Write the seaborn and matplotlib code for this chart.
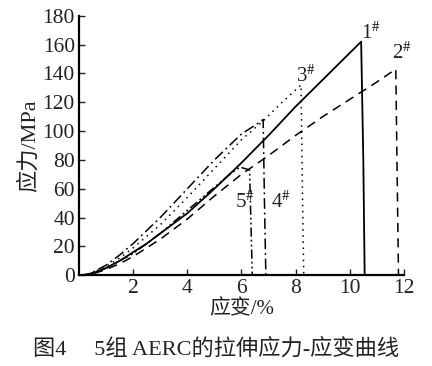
import matplotlib
matplotlib.use("Agg")
import matplotlib.pyplot as plt
import seaborn as sns
import pandas as pd

sns.set_theme(style="ticks")
plt.rcParams['font.family'] = ['Liberation Serif', 'Noto Sans CJK SC']
plt.rcParams['mathtext.fontset'] = 'stix'

# Specimen data: strain (%) and stress (MPa)
s1_strain = [0, 0.3, 0.6, 1.0, 1.5, 2.0, 2.5, 3.0, 3.5, 4.0, 5.0, 6.0, 7.0, 8.0, 9.0, 10.0, 10.42, 10.5, 10.55]
s1_stress = [0, 0.5, 2, 5, 10, 16, 22, 29, 36, 43, 60, 78, 97, 117, 135.6, 154.2, 162, 80, 0]

s2_strain = [0, 0.3, 0.6, 1.0, 1.5, 2.0, 2.5, 3.0, 3.5, 4.0, 5.0, 6.0, 7.0, 8.0, 9.0, 10.0, 11.0, 11.7, 11.75, 11.8]
s2_stress = [0, 0.3, 1.5, 4, 8, 13, 19, 25, 32, 39, 55, 70, 83, 97, 110, 122, 134, 143, 70, 0]

s3_strain = [0, 0.3, 0.6, 1.0, 1.5, 2.0, 2.5, 3.0, 4.0, 5.0, 6.0, 6.8, 7.5, 8.2, 8.25, 8.3]
s3_stress = [0, 0.5, 2.5, 6, 12, 19, 27, 35, 54, 74, 94, 107, 120, 132, 60, 0]

s4_strain = [0, 0.3, 0.6, 1.0, 1.5, 2.0, 2.5, 3.0, 4.0, 5.0, 6.0, 6.5, 6.8, 6.85, 6.9]
s4_stress = [0, 0.6, 3, 7, 14, 22, 31, 40, 60, 80, 98, 104, 108, 50, 0]

s5_strain = [0, 0.3, 0.6, 1.0, 1.5, 2.0, 2.5, 3.0, 4.0, 5.0, 5.5, 5.95, 6.3, 6.35, 6.4]
s5_stress = [0, 0.4, 2, 5, 10, 15, 22, 29, 45, 61, 69, 75, 73, 35, 0]

names = ["1", "2", "3", "4", "5"]
strains = [s1_strain, s2_strain, s3_strain, s4_strain, s5_strain]
stresses = [s1_stress, s2_stress, s3_stress, s4_stress, s5_stress]
label_pos = [(10.4, 168), (11.55, 154), (8.0, 138), (7.1, 51), (5.75, 51)]

xticks = [2, 4, 6, 8, 10, 12]
yticks = [0, 20, 40, 60, 80, 100, 120, 140, 160, 180]

rows = []
for n, xs, ys in zip(names, strains, stresses):
    for i, (x, y) in enumerate(zip(xs, ys)):
        rows.append({"spec": n, "idx": i, "strain": x, "stress": y})
df = pd.DataFrame(rows)

styles = {
    "1": (0, ()),
    "2": (0, (6, 4)),
    "3": (0, (1, 3)),
    "4": (0, (7, 2.5, 1.2, 2.5)),
    "5": (0, (6, 2, 1.2, 2, 1.2, 2)),
}

fig = plt.figure(figsize=(4.32, 3.66), dpi=100)
ax = fig.add_axes([0.183, 0.248, 0.752, 0.709])

for n in names:
    sub = df[df["spec"] == n]
    sns.lineplot(data=sub, x="strain", y="stress", sort=False, estimator=None,
                 ax=ax, color="black", lw=1.1 if n != "1" else 1.3,
                 linestyle=styles[n], legend=False)

for n, (lx, ly) in zip(names, label_pos):
    ax.text(lx, ly, n + r"$^{\#}$", fontsize=15, ha="left", va="center", color="#222222")

ax.set_xlim(0, 12)
ax.set_ylim(0, 180)
ax.set_xticks(xticks)
ax.set_yticks(yticks)
ax.tick_params(direction="in", length=4, width=1, labelsize=15.5, colors="#222222", pad=3)
for side in ["top", "right"]:
    ax.spines[side].set_visible(False)
for side in ["left", "bottom"]:
    ax.spines[side].set_linewidth(1.6)
    ax.spines[side].set_color("black")

ax.set_xlabel("应变/%", fontsize=15, color="#222222", labelpad=1)
ax.set_ylabel("应力/MPa", fontsize=16, color="#222222", labelpad=2)

fig.text(0.5, 0.045, "图4\u2003 5组 AERC的拉伸应力-应变曲线", fontsize=16,
         ha="center", va="center", color="#222222")

fig.savefig("out.png", dpi=100)
